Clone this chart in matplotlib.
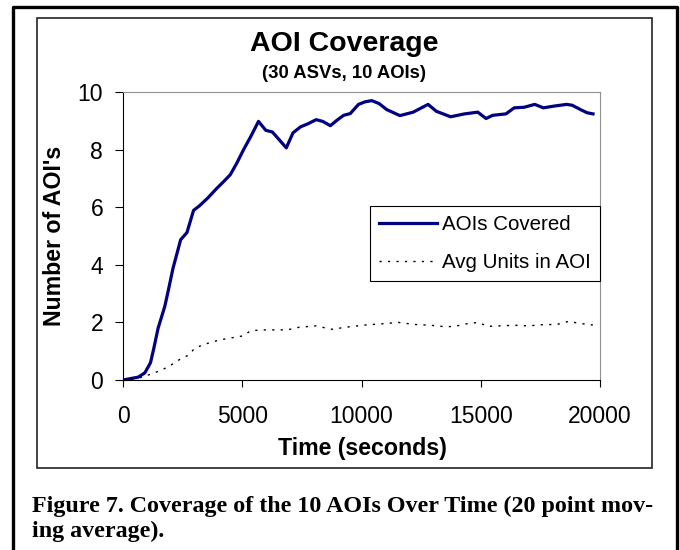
import matplotlib
matplotlib.use("Agg")
import matplotlib.pyplot as plt
from matplotlib.lines import Line2D
from matplotlib.patches import Rectangle

plt.rcParams['font.family'] = ['Liberation Sans', 'DejaVu Sans']

# AOIs covered (20 point moving average)
covered_t = [0, 640, 917, 1153, 1292, 1472, 1750, 1889, 2097, 2417, 2681, 2958,
             3208, 3556, 3903, 4208, 4500, 4778, 5056, 5361, 5681, 5986, 6264,
             6542, 6847, 7125, 7444, 7764, 8097, 8375, 8694, 8972, 9250, 9528,
             9875, 10153, 10431, 10736, 11056, 11611, 12167, 12792, 13139, 13736,
             14319, 14875, 15222, 15500, 16056, 16403, 16819, 17264, 17625,
             18069, 18597, 18833, 19181, 19458, 19708]
covered = [0.0, 0.1, 0.25, 0.6, 1.1, 1.8, 2.55, 3.07, 3.88, 4.87, 5.12, 5.89,
           6.05, 6.32, 6.63, 6.88, 7.13, 7.54, 8.0, 8.46, 8.98, 8.67, 8.61,
           8.35, 8.06, 8.58, 8.79, 8.90, 9.04, 8.98, 8.83, 9.02, 9.19, 9.25,
           9.57, 9.66, 9.70, 9.60, 9.39, 9.18, 9.30, 9.57, 9.33, 9.14,
           9.24, 9.30, 9.08, 9.19, 9.24, 9.45, 9.47, 9.57, 9.45,
           9.51, 9.57, 9.54, 9.39, 9.28, 9.24]

# average units in each AOI
units_t = [0, 640, 1264, 1681, 2097, 2444, 2764, 3000, 3347, 3764, 4181, 4597,
           5014, 5361, 5847, 6403, 6889, 7375, 8069, 8764, 9319, 10153, 10847,
           11542, 12200, 12900, 13500, 13900, 14400, 14900, 15300, 15800, 16400,
           17000, 17600, 18200, 18700, 19100, 19700]
units = [0.0, 0.06, 0.23, 0.37, 0.56, 0.75, 0.87, 1.10, 1.22, 1.33, 1.41, 1.47,
         1.53, 1.71, 1.74, 1.74, 1.74, 1.83, 1.88, 1.76, 1.83, 1.91, 1.95,
         2.0, 1.93, 1.90, 1.85, 1.86, 1.95, 2.0, 1.86, 1.88, 1.90,
         1.88, 1.92, 1.93, 2.04, 1.97, 1.91]

x_ticks = [0, 5000, 10000, 15000, 20000]
y_ticks = [0, 2, 4, 6, 8, 10]

W, H = 680, 550


def fx(px):
    return px / W


def fy(py):
    return 1 - py / H


fig = plt.figure(figsize=(6.8, 5.5), dpi=100)

# outer page frame and chart box
fig.add_artist(Line2D([fx(13), fx(13), fx(677), fx(677)], [0, fy(7), fy(7), 0],
                      color='black', lw=2.4, transform=fig.transFigure))
fig.add_artist(Rectangle((fx(37), fy(468)), fx(652) - fx(37), fy(18) - fy(468),
                         fill=False, ec='#222222', lw=1.2, transform=fig.transFigure))

ax = fig.add_axes([fx(123), fy(380), fx(600) - fx(123), fy(92) - fy(380)])

ax.plot(covered_t, covered, color='#000080', lw=2.3, label='AOIs Covered')
ax.plot(units_t, units, color='black', lw=1.0, linestyle=(0, (1.6, 4.5)),
        label='Avg Units in AOI')

ax.set_xlim(0, 20000)
ax.set_ylim(0, 10)
ax.set_xticks(x_ticks)
ax.set_yticks(y_ticks)
ax.tick_params(axis='y', direction='out', length=5.8, width=0.8, pad=8.5,
               labelsize=16.5)
ax.tick_params(axis='x', direction='out', length=5, width=0.8, pad=13,
               labelsize=16.5)
for s in ['left', 'bottom']:
    ax.spines[s].set_color('black')
    ax.spines[s].set_linewidth(0.8)
for s in ['top', 'right']:
    ax.spines[s].set_color('#909090')
    ax.spines[s].set_linewidth(0.8)

leg = ax.legend(loc='upper left', bbox_to_anchor=(0.518, 0.604),
                borderaxespad=0, fontsize=14.8, frameon=True, fancybox=False,
                edgecolor='black', framealpha=1, handlelength=2.8,
                handletextpad=0.25, labelspacing=0.9, borderpad=0.45)
leg.get_frame().set_linewidth(0.8)

fig.text(fx(344), fy(44), 'AOI Coverage', ha='center', va='center',
         fontsize=20.5, fontweight='bold')
fig.text(fx(344), fy(74), '(30 ASVs, 10 AOIs)', ha='center', va='center',
         fontsize=13.3, fontweight='bold')
fig.text(fx(362), fy(449), 'Time (seconds)', ha='center', va='center',
         fontsize=16.7, fontweight='bold')
fig.text(fx(55), fy(236), "Number of AOI's", ha='center', va='center',
         rotation=90, fontsize=16.7, fontweight='bold')

caption_font = ['Liberation Serif', 'DejaVu Serif']
fig.text(fx(32), fy(512), 'Figure 7. Coverage of the 10 AOIs Over Time (20 point mov-',
         ha='left', va='baseline', fontsize=17.3, fontweight='bold',
         family=caption_font)
fig.text(fx(32), fy(537), 'ing average).',
         ha='left', va='baseline', fontsize=17.3, fontweight='bold',
         family=caption_font)

fig.savefig('out.png', dpi=100)
